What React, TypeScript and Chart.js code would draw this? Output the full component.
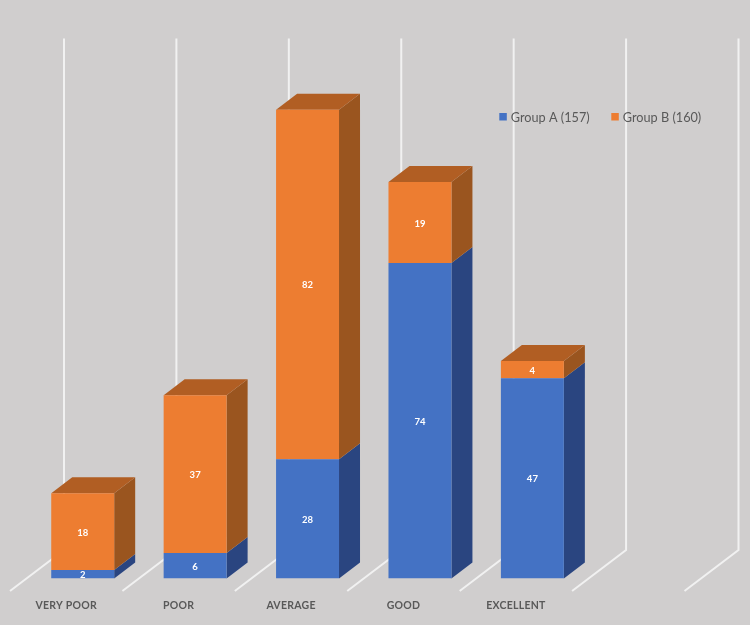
import React, { useEffect, useRef } from "react";
import { Chart, registerables } from "chart.js";

Chart.register(...registerables);

const categories = ["VERY POOR", "POOR", "AVERAGE", "GOOD", "EXCELLENT", ""];
const groupA = [2, 6, 28, 74, 47, null];
const groupB = [18, 37, 82, 19, 4, null];
const seriesNames = ["Group A (157)", "Group B (160)"];

const BG = "#D0CECE";
const BLUE = "#4472C4";
const BLUE_SIDE = "#2A4580";
const ORANGE = "#ED7D31";
const ORANGE_SIDE = "#9A551F";
const ORANGE_TOP = "#B15E23";
const GRID = "#F1F1F1";
const TEXT = "#595959";
const BAR_DX = 21;
const BAR_DY = 16;
const FLOOR_FRONT = { x: -16.5, y: 12.5 };
const FLOOR_BACK = { x: 37.5, y: -28.5 };
const LEGEND_X = [499.3, 611.3];
const LEGEND_Y = 113;

function poly(ctx: any, pts: number[][], color: string) {
  ctx.beginPath();
  pts.forEach((p, i) => (i ? ctx.lineTo(p[0], p[1]) : ctx.moveTo(p[0], p[1])));
  ctx.closePath();
  ctx.fillStyle = color;
  ctx.fill();
}

const scene3d = {
  id: "scene3d",
  beforeDraw(chart: any) {
    chart.ctx.letterSpacing = "0px";
  },
  beforeDatasetsDraw(chart: any) {
    const { ctx, scales } = chart;
    const xs = scales.x;
    const ys = scales.y;
    const step = xs.getPixelForValue(1) - xs.getPixelForValue(0);
    ctx.save();
    ctx.strokeStyle = GRID;
    ctx.lineWidth = 2;
    for (let i = 0; i <= categories.length; i++) {
      const x = xs.getPixelForValue(0) - step / 2 + step * i;
      const y0 = ys.getPixelForValue(0);
      const yTop = ys.getPixelForValue(ys.max);
      ctx.beginPath();
      ctx.moveTo(x + FLOOR_FRONT.x, y0 + FLOOR_FRONT.y);
      ctx.lineTo(x + FLOOR_BACK.x, y0 + FLOOR_BACK.y);
      ctx.lineTo(x + FLOOR_BACK.x, yTop + FLOOR_BACK.y);
      ctx.stroke();
    }
    const sides = [BLUE_SIDE, ORANGE_SIDE];
    chart.data.datasets.forEach((_: any, d: number) => {
      chart.getDatasetMeta(d).data.forEach((bar: any, j: number) => {
        if (chart.data.datasets[d].data[j] == null) return;
        const r = bar.x + bar.width / 2;
        const l = bar.x - bar.width / 2;
        poly(ctx, [[r, bar.y], [r + BAR_DX, bar.y - BAR_DY], [r + BAR_DX, bar.base - BAR_DY], [r, bar.base]], sides[d]);
        if (d === chart.data.datasets.length - 1) {
          poly(ctx, [[l, bar.y], [l + BAR_DX, bar.y - BAR_DY], [r + BAR_DX, bar.y - BAR_DY], [r, bar.y]], ORANGE_TOP);
        }
      });
    });
    ctx.restore();
  },
  afterDatasetsDraw(chart: any) {
    const { ctx } = chart;
    ctx.save();
    ctx.fillStyle = "#FFFFFF";
    ctx.font = "bold 9.5px Lato";
    ctx.textAlign = "center";
    ctx.textBaseline = "middle";
    chart.data.datasets.forEach((ds: any, d: number) => {
      chart.getDatasetMeta(d).data.forEach((bar: any, j: number) => {
        const v = ds.data[j];
        if (v == null) return;
        ctx.fillText(String(v), bar.x, (bar.y + bar.base) / 2 + 1);
      });
    });
    ctx.textAlign = "left";
    ctx.font = "12.7px Lato";
    chart.data.datasets.forEach((ds: any, d: number) => {
      ctx.fillStyle = ds.backgroundColor;
      ctx.fillRect(LEGEND_X[d], LEGEND_Y, 7.5, 7.5);
      ctx.fillStyle = TEXT;
      ctx.fillText(ds.label, LEGEND_X[d] + 11.5, LEGEND_Y + 4.6);
    });
    ctx.restore();
    ctx.letterSpacing = "0.25px";
  },
  afterDraw(chart: any) {
    chart.ctx.letterSpacing = "0px";
  },
};

export default function App() {
  const ref = useRef<HTMLCanvasElement>(null);
  useEffect(() => {
    const chart = new Chart(ref.current as HTMLCanvasElement, {
      type: "bar",
      data: {
        labels: categories,
        datasets: [
          { label: seriesNames[0], data: groupA, backgroundColor: BLUE, borderWidth: 0 },
          { label: seriesNames[1], data: groupB, backgroundColor: ORANGE, borderWidth: 0 },
        ],
      },
      options: {
        responsive: false,
        animation: false,
        layout: { padding: { left: 26.5, right: 49, top: 67, bottom: 0 } },
        datasets: { bar: { categoryPercentage: 1, barPercentage: 0.56 } },
        scales: {
          x: {
            stacked: true,
            grid: { display: false },
            border: { display: false },
            afterFit: (s: any) => { s.height = 46.5; },
            ticks: {
              z: 1,
              autoSkip: false,
              maxRotation: 0,
              minRotation: 0,
              padding: 13,
              labelOffset: -16.5,
              color: TEXT,
              font: { family: "Lato", size: 10.5, weight: "bold" },
            },
          },
          y: { stacked: true, display: false, min: 0, max: 120 },
        },
        plugins: {
          tooltip: { enabled: false },
          legend: { display: false },
        },
      },
      plugins: [scene3d],
    } as any);
    return () => chart.destroy();
  }, []);
  return (
    <div style={{ position: "fixed", left: 0, top: 0, width: 750, height: 625, background: BG }}>
      <canvas ref={ref} width={750} height={625} style={{ display: "block" }} />
    </div>
  );
}
